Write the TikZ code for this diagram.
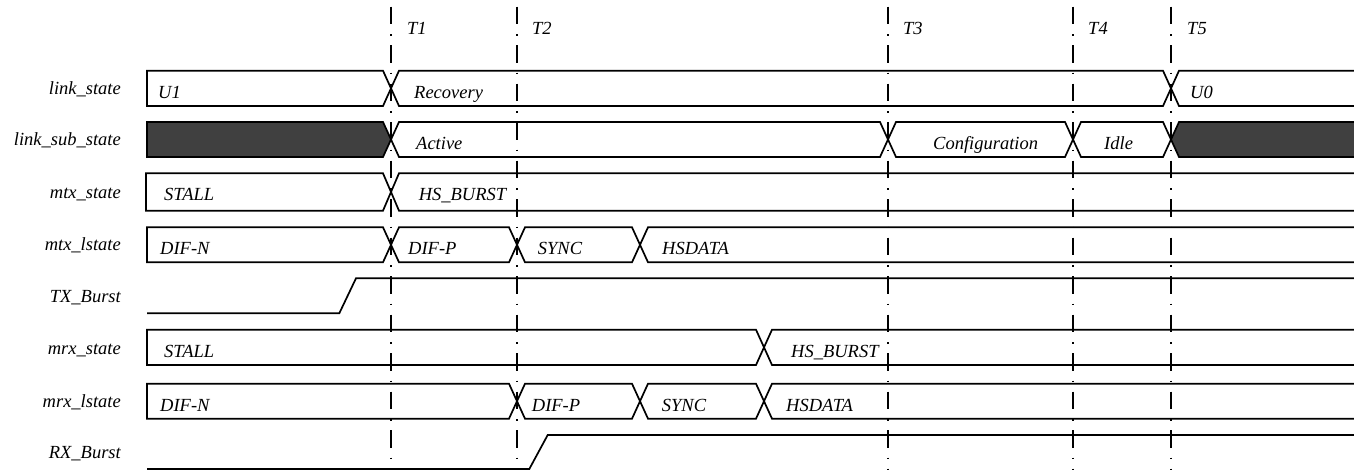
\documentclass[tikz,border=0pt]{standalone}
\usepackage{fontspec}
\setmainfont{Liberation Serif}
\begin{document}
\begin{tikzpicture}[x=1pt,y=-1pt,
  sig/.style={line width=1.7pt, line join=miter},
  darkseg/.style={sig, fill=darkfill},
  tline/.style={line width=1.5pt, dash pattern=on 17.5pt off 10pt on 1.5pt off 9.5pt},
  txt/.style={font=\fontsize{18.5}{22}\selectfont\itshape, inner sep=0pt, anchor=base west},
  rowlab/.style={font=\fontsize{18.5}{22}\selectfont\itshape, inner sep=0pt, anchor=base east},
]
\definecolor{darkfill}{HTML}{404040}
\useasboundingbox (0,0) rectangle (1354,470);
% ---- row 1: link_state (70.7 .. 106)
\draw[sig] (147,70.7) -- (383,70.7) -- (391,88.35) -- (383,106) -- (147,106) -- cycle;
\draw[sig] (399,70.7) -- (1163,70.7) -- (1171,88.35) -- (1163,106) -- (399,106) -- (391,88.35) -- cycle;
\draw[sig] (1354,70.7) -- (1179,70.7) -- (1171,88.35) -- (1179,106) -- (1354,106);
% ---- row 2: link_sub_state (122 .. 157)
\draw[darkseg] (147,122) -- (383,122) -- (391,139.5) -- (383,157) -- (147,157) -- cycle;
\draw[sig] (399,122) -- (880,122) -- (888,139.5) -- (880,157) -- (399,157) -- (391,139.5) -- cycle;
\draw[sig] (896,122) -- (1065,122) -- (1073,139.5) -- (1065,157) -- (896,157) -- (888,139.5) -- cycle;
\draw[sig] (1081,122) -- (1163,122) -- (1171,139.5) -- (1163,157) -- (1081,157) -- (1073,139.5) -- cycle;
\draw[darkseg] (1356,122) -- (1179,122) -- (1171,139.5) -- (1179,157) -- (1356,157);
% ---- row 3: mtx_state (173.3 .. 210.7)
\draw[sig] (146,173.3) -- (383,173.3) -- (391,192) -- (383,210.7) -- (146,210.7) -- cycle;
\draw[sig] (1354,173.3) -- (399,173.3) -- (391,192) -- (399,210.7) -- (1354,210.7);
% ---- row 4: mtx_lstate (227.3 .. 262.3)
\draw[sig] (147,227.3) -- (383,227.3) -- (391,244.8) -- (383,262.3) -- (147,262.3) -- cycle;
\draw[sig] (399,227.3) -- (509,227.3) -- (517,244.8) -- (509,262.3) -- (399,262.3) -- (391,244.8) -- cycle;
\draw[sig] (525,227.3) -- (632,227.3) -- (640,244.8) -- (632,262.3) -- (525,262.3) -- (517,244.8) -- cycle;
\draw[sig] (1354,227.3) -- (648,227.3) -- (640,244.8) -- (648,262.3) -- (1354,262.3);
% ---- row 5: TX_Burst
\draw[sig] (147,313.3) -- (339.3,313.3) -- (356,278.3) -- (1354,278.3);
% ---- row 6: mrx_state (329.7 .. 365)
\draw[sig] (147,329.7) -- (756,329.7) -- (764,347.35) -- (756,365) -- (147,365) -- cycle;
\draw[sig] (1354,329.7) -- (772,329.7) -- (764,347.35) -- (772,365) -- (1354,365);
% ---- row 7: mrx_lstate (383.7 .. 418.7)
\draw[sig] (147,383.7) -- (509,383.7) -- (517,401.2) -- (509,418.7) -- (147,418.7) -- cycle;
\draw[sig] (525,383.7) -- (632,383.7) -- (640,401.2) -- (632,418.7) -- (525,418.7) -- (517,401.2) -- cycle;
\draw[sig] (648,383.7) -- (756,383.7) -- (764,401.2) -- (756,418.7) -- (648,418.7) -- (640,401.2) -- cycle;
\draw[sig] (1354,383.7) -- (772,383.7) -- (764,401.2) -- (772,418.7) -- (1354,418.7);
% ---- row 8: RX_Burst
\draw[sig] (147,469) -- (529.3,469) -- (547.7,435) -- (1354,435);
% ---- time markers
\foreach \n/\x in {1/391,2/517,3/888,4/1073,5/1171}{
  \coordinate (t\n top) at (\x,6.7);
  \coordinate (t\n bot) at (\x,471);
  \draw[tline] (t\n top) -- (t\n bot);
}
\node[txt] (lT1) at (407,35) {T1};
\node[txt] (lT2) at (532,35) {T2};
\node[txt] (lT3) at (903,35) {T3};
\node[txt] (lT4) at (1088,35) {T4};
\node[txt] (lT5) at (1187,35) {T5};
% ---- row labels
\node[rowlab] (r1) at (121,95) {link\_state};
\node[rowlab] (r2) at (121,146) {link\_sub\_state};
\node[rowlab] (r3) at (121,198.5) {mtx\_state};
\node[rowlab] (r4) at (121,251) {mtx\_lstate};
\node[rowlab] (r5) at (121,302) {TX\_Burst};
\node[rowlab] (r6) at (121,354) {mrx\_state};
\node[rowlab] (r7) at (121,407.5) {mrx\_lstate};
\node[rowlab] (r8) at (121,458.5) {RX\_Burst};
% ---- state texts
\node[txt] (s11) at (158,98.2) {U1};
\node[txt] (s12) at (414,98.2) {Recovery};
\node[txt] (s13) at (1190,98.2) {U0};
\node[txt] (s22) at (416,149.5) {Active};
\node[txt] (s23) at (933,149.5) {Configuration};
\node[txt] (s24) at (1104,149.5) {Idle};
\node[txt] (s31) at (164,200.8) {STALL};
\node[txt] (s32) at (418.6,200.8) {HS\_BURST};
\node[txt] (s41) at (160,254.8) {DIF-N};
\node[txt] (s42) at (408,254.8) {DIF-P};
\node[txt] (s43) at (537.7,254.8) {SYNC};
\node[txt] (s44) at (662,254.8) {HSDATA};
\node[txt] (s61) at (164,357.2) {STALL};
\node[txt] (s62) at (791,357.2) {HS\_BURST};
\node[txt] (s71) at (160,411.2) {DIF-N};
\node[txt] (s72) at (531.7,411.2) {DIF-P};
\node[txt] (s73) at (661.7,411.2) {SYNC};
\node[txt] (s74) at (786,411.2) {HSDATA};
\end{tikzpicture}
\end{document}
